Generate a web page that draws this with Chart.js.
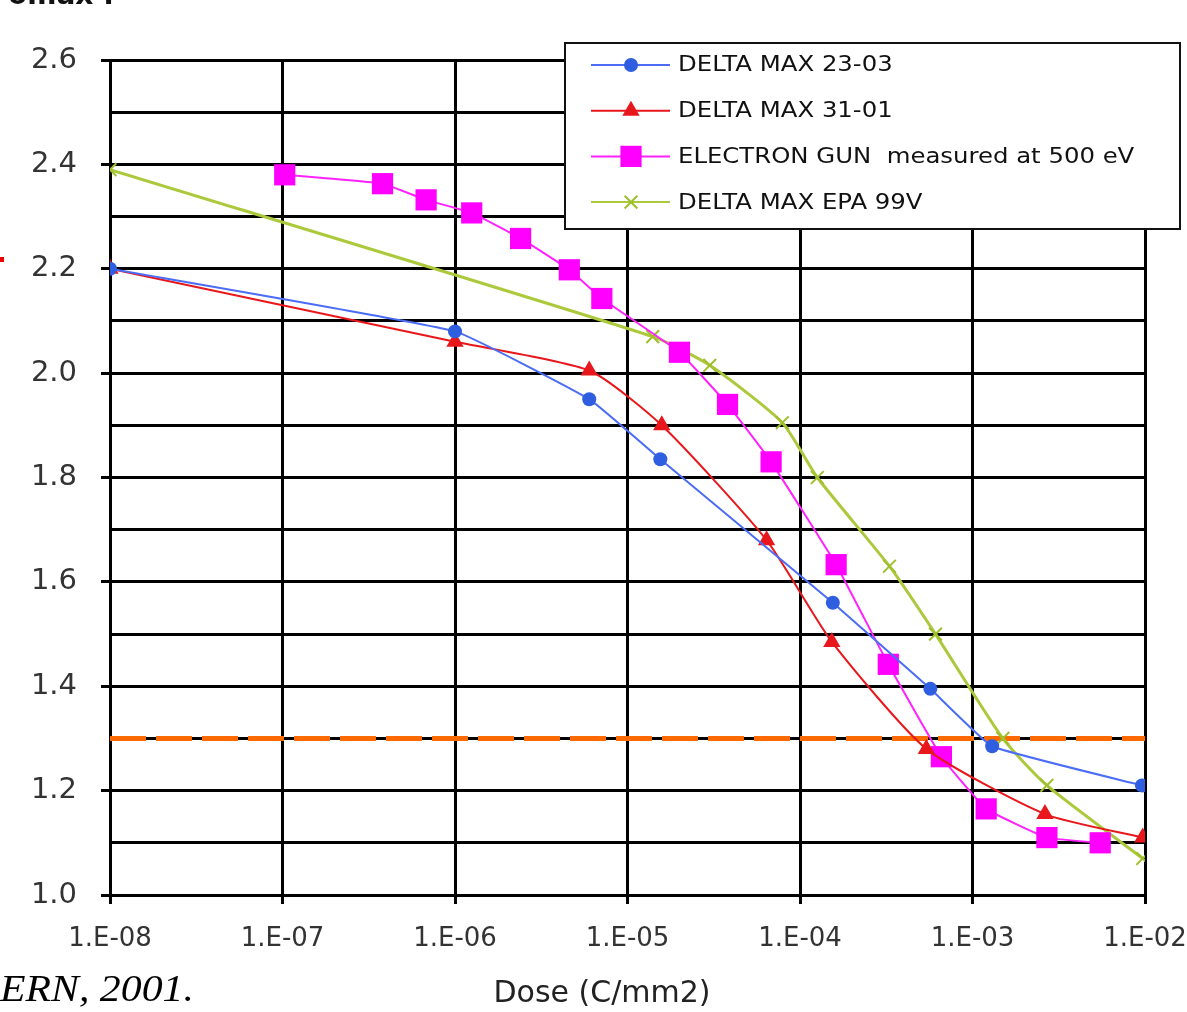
<!DOCTYPE html>
<html>
<head>
<meta charset="utf-8">
<title>Delta max vs dose</title>
<script src="https://cdn.jsdelivr.net/npm/chart.js@4.4.1/dist/chart.umd.min.js"></script>
<style>
    html, body { margin: 0; padding: 0; background: #fff; }
    #wrap { position: relative; width: 1187px; height: 1012px; overflow: hidden; }
    #cut { position: absolute; left: 8px; top: 0; height: 11px; overflow: hidden; }
    #cut span { display: block; margin-top: -22px; font: bold 28px "DejaVu Sans", sans-serif; color: #111; }
    #mark { position: absolute; left: 0; top: 257px; width: 4px; height: 5px; background: #e00; }
    #src { position: absolute; left: 0; top: 966px; font: italic 38px "Liberation Serif", serif; color: #000;
           transform: scaleX(1.1); transform-origin: 0 0; }
</style>
</head>
<body>
<div id="wrap">
    <canvas id="chart"></canvas>
    <div id="cut"><span>δmax :</span></div>
    <div id="mark"></div>
    <div id="src">ERN, 2001.</div>
</div>
<script>
// <-- Data -->
const seriesNames = ['DELTA MAX 23-03', 'DELTA MAX 31-01', 'ELECTRON GUN  measured at 500 eV', 'DELTA MAX EPA 99V'];

const blueDose = [1e-8, 1e-6, 6e-6, 1.55e-5, 1.55e-4, 5.7e-4, 1.3e-3, 9.6e-3];
const blueYield = [2.2, 2.08, 1.95, 1.835, 1.56, 1.395, 1.285, 1.21];

const redDose = [1e-8, 1e-6, 6e-6, 1.58e-5, 6.4e-5, 1.53e-4, 5.4e-4, 2.63e-3, 9.7e-3];
const redYield = [2.2, 2.06, 2.005, 1.90, 1.68, 1.485, 1.28, 1.155, 1.11];

const gunDose = [1.03e-7, 3.8e-7, 6.8e-7, 1.25e-6, 2.4e-6, 4.6e-6, 7.1e-6, 2.0e-5, 3.8e-5, 6.8e-5, 1.62e-4, 3.25e-4, 6.6e-4, 1.2e-3, 2.7e-3, 5.5e-3];
const gunYield = [2.38, 2.363, 2.332, 2.307, 2.258, 2.198, 2.143, 2.04, 1.94, 1.83, 1.633, 1.442, 1.265, 1.165, 1.11, 1.10];

const epaDose = [1e-8, 1.4e-5, 3.0e-5, 7.9e-5, 1.26e-4, 3.3e-4, 6.1e-4, 1.5e-3, 2.7e-3, 9.7e-3];
const epaYield = [2.39, 2.07, 2.015, 1.905, 1.80, 1.63, 1.50, 1.30, 1.21, 1.07];

const limitDose = [1e-8, 1e-2];
const limitYield = [1.3, 1.3];

const xTicks = [1e-8, 1e-7, 1e-6, 1e-5, 1e-4, 1e-3, 1e-2];
const xTickLabels = ['1.E-08', '1.E-07', '1.E-06', '1.E-05', '1.E-04', '1.E-03', '1.E-02'];
const yTickLabels = ['1.0', '1.2', '1.4', '1.6', '1.8', '2.0', '2.2', '2.4', '2.6'];
const xTitle = 'Dose (C/mm2)';

function pts(xs, ys) { return xs.map((x, i) => ({ x: x, y: ys[i] })); }

// <-- Marker for the legend, same shapes as Chart.js points -->
function drawMarker(ctx, style, x, y, r, fill, stroke) {
    ctx.beginPath();
    if (style === 'circle') {
        ctx.arc(x, y, r, 0, Math.PI * 2);
        ctx.fillStyle = fill; ctx.fill();
    } else if (style === 'triangle') {
        for (let k = 0; k < 3; k++) {
            const a = k * Math.PI * 2 / 3;
            const px = x + Math.sin(a) * r, py = y - Math.cos(a) * r;
            if (k === 0) ctx.moveTo(px, py); else ctx.lineTo(px, py);
        }
        ctx.closePath();
        ctx.fillStyle = fill; ctx.fill();
    } else if (style === 'rect') {
        const s = r * Math.SQRT1_2;
        ctx.rect(x - s, y - s, 2 * s, 2 * s);
        ctx.fillStyle = fill; ctx.fill();
    } else {
        const s = r * Math.SQRT1_2;
        ctx.moveTo(x - s, y - s); ctx.lineTo(x + s, y + s);
        ctx.moveTo(x + s, y - s); ctx.lineTo(x - s, y + s);
        ctx.lineWidth = 2; ctx.strokeStyle = stroke; ctx.stroke();
    }
}

// <-- Boxed legend over the top right of the plot, plus the axis title -->
const legendBox = {
    id: 'legendBox',
    afterDraw(chart) {
        const ctx = chart.ctx;
        ctx.save();
        ctx.font = '30px "DejaVu Sans", sans-serif';
        ctx.fillStyle = '#222';
        ctx.textAlign = 'center';
        ctx.textBaseline = 'middle';
        ctx.fillText(xTitle, 602, 994);

        ctx.textAlign = 'left';
        ctx.fillStyle = '#fff';
        ctx.fillRect(565, 43, 615, 186);
        ctx.lineWidth = 2;
        ctx.strokeStyle = '#111';
        ctx.strokeRect(565, 43, 615, 186);
        chart.data.datasets.forEach((ds, i) => {
            if (i >= seriesNames.length) return;
            const y = 65 + i * 45.7;
            ctx.beginPath();
            ctx.moveTo(591, y); ctx.lineTo(670, y);
            ctx.lineWidth = 2; ctx.strokeStyle = ds.borderColor; ctx.stroke();
            drawMarker(ctx, ds.pointStyle, 631, y, ds.pointRadius, ds.pointBackgroundColor, ds.pointBorderColor);
            ctx.save();
            ctx.translate(678, y);
            ctx.scale(1.16, 1);
            ctx.font = '21px "DejaVu Sans", sans-serif';
            ctx.fillStyle = '#111';
            ctx.fillText(ds.label, 0, 1);
            ctx.restore();
        });
        ctx.restore();
    }
};

window.addEventListener('DOMContentLoaded', function () {
    const canvas = document.getElementById('chart');
    canvas.style.width = '1187px';
    canvas.style.height = '1012px';

    new Chart(canvas, {
        type: 'line',
        data: {
            datasets: [
                {
                    label: seriesNames[0], data: pts(blueDose, blueYield),
                    borderColor: '#4a6cf7', borderWidth: 2,
                    pointStyle: 'circle', pointRadius: 7,
                    pointBackgroundColor: '#2f5ee0', pointBorderColor: '#2f5ee0', pointBorderWidth: 0,
                    tension: 0.1
                },
                {
                    label: seriesNames[1], data: pts(redDose, redYield),
                    borderColor: '#e8171c', borderWidth: 2,
                    pointStyle: 'triangle', pointRadius: 10,
                    pointBackgroundColor: '#e8171c', pointBorderColor: '#e8171c', pointBorderWidth: 0,
                    tension: 0.2
                },
                {
                    label: seriesNames[2], data: pts(gunDose, gunYield),
                    borderColor: '#ff22ff', borderWidth: 2,
                    pointStyle: 'rect', pointRadius: 15,
                    pointBackgroundColor: '#ff00ff', pointBorderColor: '#ff00ff', pointBorderWidth: 0,
                    tension: 0.1
                },
                {
                    label: seriesNames[3], data: pts(epaDose, epaYield),
                    borderColor: '#abc93a', borderWidth: 3,
                    pointStyle: 'crossRot', pointRadius: 9,
                    pointBackgroundColor: '#abc93a', pointBorderColor: '#9fbf2c', pointBorderWidth: 2,
                    tension: 0.2
                },
                {
                    label: 'limit', data: pts(limitDose, limitYield),
                    borderColor: '#ff6a00', borderWidth: 5, borderDash: [36, 10],
                    pointRadius: 0, order: 10
                }
            ]
        },
        options: {
            responsive: true,
            maintainAspectRatio: false,
            animation: false,
            layout: { padding: { top: 60, right: 42, left: 0, bottom: 0 } },
            plugins: { legend: { display: false }, tooltip: { enabled: false } },
            scales: {
                x: {
                    type: 'logarithmic',
                    min: 1e-8, max: 1e-2,
                    afterBuildTicks: s => { s.ticks = xTicks.map(v => ({ value: v })); },
                    afterFit: s => { s.height = 117; s.paddingLeft = 0; s.paddingRight = 0; },
                    ticks: {
                        autoSkip: false, maxRotation: 0, padding: 20,
                        color: '#333', font: { family: '"DejaVu Sans", sans-serif', size: 26 },
                        callback: (v, i) => xTickLabels[i]
                    },
                    grid: { color: '#000', lineWidth: 3, tickLength: 9, tickColor: '#000' },
                    border: { display: true, color: '#000', width: 3 }
                },
                y: {
                    min: 1.0, max: 2.6,
                    afterFit: s => { s.width = 110; },
                    ticks: {
                        stepSize: 0.1, autoSkip: false, padding: 24,
                        color: '#333', font: { family: '"DejaVu Sans", sans-serif', size: 29 },
                        callback: (v, i) => (i % 2 === 0 ? yTickLabels[i / 2] : '')
                    },
                    grid: {
                        color: '#000', lineWidth: 3, tickLength: 9,
                        tickColor: c => (c.index % 2 === 0 ? '#000' : 'rgba(0,0,0,0)')
                    },
                    border: { display: true, color: '#000', width: 3 }
                }
            }
        },
        plugins: [legendBox]
    });
});
</script>
</body>
</html>
